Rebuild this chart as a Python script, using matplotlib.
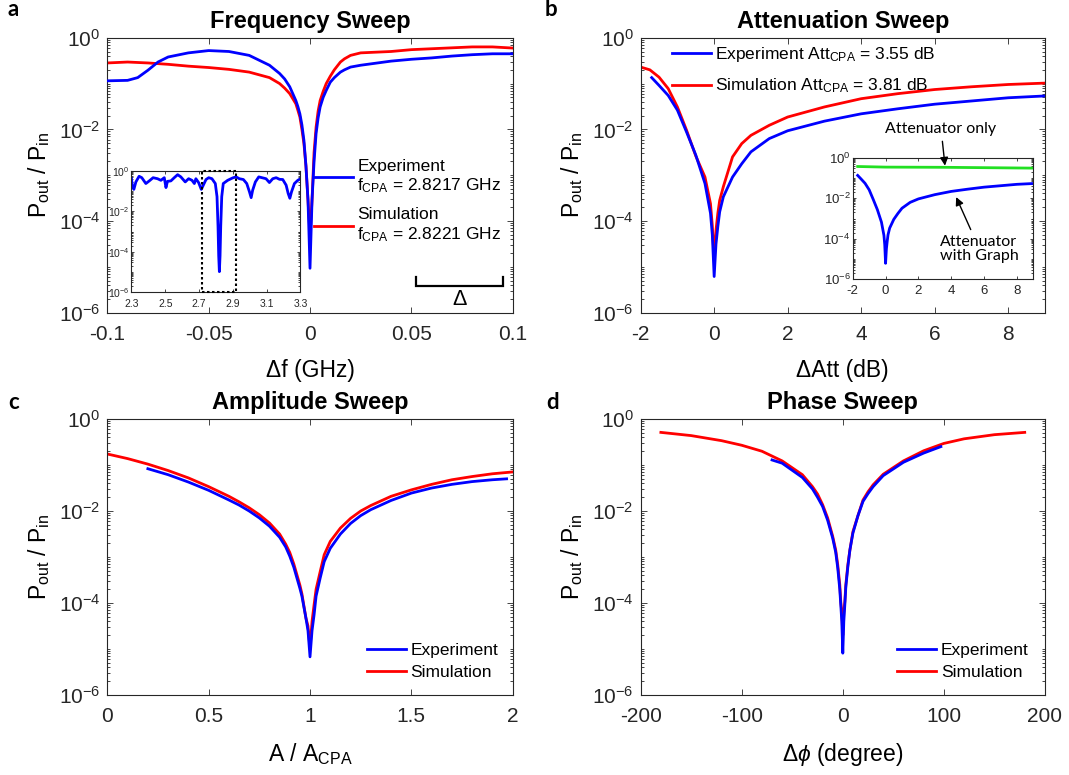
import numpy as np
import matplotlib
matplotlib.use("Agg")
import matplotlib.pyplot as plt
from matplotlib.ticker import FixedLocator, LogLocator, FuncFormatter, NullFormatter
from matplotlib.patches import Rectangle

# ── data (log10 of Pout/Pin) ──────────────────────────────────────────────────
# a: frequency sweep
fa_exp_x = [-0.1, -0.09, -0.085, -0.08, -0.075, -0.07, -0.06, -0.05, -0.04, -0.03, -0.02,
            -0.015, -0.0125, -0.01, -0.0085, -0.007, -0.006, -0.005, -0.004, -0.003, -0.002,
            -0.001, 0.0, 0.001, 0.002, 0.003, 0.004, 0.005, 0.0065, 0.008, 0.01, 0.012,
            0.015, 0.017, 0.02, 0.025, 0.03, 0.04, 0.05, 0.06, 0.07, 0.08, 0.09, 0.1]
fa_exp_y = [-0.94, -0.93, -0.87, -0.71, -0.53, -0.42, -0.33, -0.28, -0.30, -0.385, -0.60,
            -0.78, -0.90, -1.07, -1.22, -1.37, -1.50, -1.66, -1.90, -2.24, -2.80,
            -3.54, -5.03, -3.54, -2.70, -2.09, -1.75, -1.51, -1.30, -1.15, -0.97, -0.87,
            -0.75, -0.70, -0.64, -0.60, -0.57, -0.51, -0.47, -0.44, -0.40, -0.37, -0.35, -0.35]
fa_sim_x = [-0.1, -0.09, -0.08, -0.07, -0.06, -0.05, -0.04, -0.03, -0.02, -0.015, -0.0125,
            -0.01, -0.0085, -0.007, -0.006, -0.005, -0.004, -0.003, -0.002, -0.001, 0.0,
            0.001, 0.002, 0.003, 0.004, 0.005, 0.0065, 0.008, 0.01, 0.012, 0.015, 0.017,
            0.02, 0.025, 0.03, 0.04, 0.05, 0.06, 0.07, 0.08, 0.09, 0.1]
fa_sim_y = [-0.55, -0.53, -0.55, -0.58, -0.62, -0.65, -0.69, -0.75, -0.87, -1.0, -1.1,
            -1.22, -1.33, -1.44, -1.58, -1.73, -2.0, -2.31, -2.80, -3.54, -4.3,
            -3.54, -2.50, -1.95, -1.60, -1.37, -1.17, -1.0, -0.84, -0.70, -0.53, -0.46,
            -0.385, -0.33, -0.32, -0.30, -0.26, -0.24, -0.22, -0.20, -0.20, -0.225]

# a inset: wide frequency scan (GHz)
wide_x = [2.30, 2.306, 2.314, 2.326, 2.345, 2.361, 2.385, 2.405, 2.428, 2.454, 2.474, 2.494,
          2.504, 2.513, 2.533, 2.553, 2.573, 2.592, 2.618, 2.638, 2.658, 2.672, 2.681, 2.697,
          2.713, 2.725, 2.741, 2.757, 2.776, 2.796, 2.806, 2.812, 2.816, 2.820, 2.824, 2.828,
          2.834, 2.843, 2.869, 2.899, 2.919, 2.938, 2.962, 2.982, 2.998, 3.008, 3.017, 3.033,
          3.053, 3.077, 3.096, 3.116, 3.136, 3.156, 3.176, 3.195, 3.215, 3.227, 3.237, 3.247,
          3.264, 3.284, 3.30]
wide_y = [-0.38, -0.78, -0.91, -0.54, -0.26, -0.33, -0.62, -0.49, -0.33, -0.38, -0.46, -0.33,
          -0.82, -0.51, -0.49, -0.33, -0.18, -0.29, -0.54, -0.38, -0.46, -0.62, -0.38, -0.57,
          -0.91, -0.70, -0.42, -0.33, -0.38, -0.62, -1.27, -2.74, -4.2, -4.99, -4.2, -2.74,
          -1.27, -0.62, -0.46, -0.34, -0.29, -0.38, -0.42, -0.62, -1.03, -1.32, -0.95, -0.54,
          -0.29, -0.34, -0.38, -0.57, -0.38, -0.33, -0.41, -0.42, -0.70, -1.11, -1.35, -1.03,
          -0.62, -0.46, -0.38]
window = (2.72, 2.92)

# b: attenuation sweep (dB)
att_exp_x = [-1.7, -1.5, -1.25, -1.0, -0.75, -0.5, -0.25, -0.1, -0.05, 0.0, 0.05, 0.1, 0.15,
             0.25, 0.5, 0.75, 1.0, 1.5, 2, 3, 4, 5, 6, 7, 8, 9]
att_exp_y = [-0.87, -1.04, -1.26, -1.58, -2.06, -2.56, -3.18, -3.83, -4.30, -5.21, -4.50,
             -4.12, -3.80, -3.47, -3.04, -2.75, -2.49, -2.20, -2.03, -1.82, -1.66, -1.55,
             -1.45, -1.38, -1.31, -1.27]
att_sim_x = [-2.0, -1.75, -1.5, -1.25, -1.0, -0.75, -0.5, -0.25, -0.1, -0.05, 0.0, 0.05, 0.1,
             0.15, 0.25, 0.5, 0.75, 1.0, 1.5, 2, 3, 4, 5, 6, 7, 8, 9]
att_sim_y = [-0.64, -0.70, -0.86, -1.11, -1.51, -2.02, -2.58, -3.04, -3.62, -4.10, -4.85,
             -4.20, -3.83, -3.55, -3.25, -2.60, -2.31, -2.13, -1.91, -1.73, -1.51, -1.33,
             -1.22, -1.13, -1.07, -1.02, -0.99]
att_only_x = [-1.7, 0.0, 3.6, 9.0]
att_only_y = [-0.43, -0.46, -0.47, -0.51]

# c: amplitude sweep (A / A_CPA)
amp_exp_x = [0.2, 0.3, 0.4, 0.5, 0.6, 0.65, 0.7, 0.75, 0.8, 0.85, 0.88, 0.9, 0.92, 0.95,
             0.96, 0.98, 0.99, 1.0, 1.01, 1.02, 1.03, 1.05, 1.07, 1.1, 1.15, 1.2, 1.25,
             1.3, 1.4, 1.5, 1.6, 1.7, 1.8, 1.9, 1.97]
amp_exp_y = [-1.08, -1.21, -1.37, -1.55, -1.76, -1.87, -2.0, -2.15, -2.33, -2.57, -2.78,
             -2.98, -3.22, -3.68, -3.85, -4.33, -4.60, -5.17, -4.60, -4.26, -3.85, -3.46,
             -3.10, -2.81, -2.50, -2.27, -2.10, -1.97, -1.77, -1.61, -1.50, -1.42, -1.36,
             -1.32, -1.30]
amp_sim_x = [0.0, 0.1, 0.2, 0.3, 0.4, 0.5, 0.6, 0.65, 0.7, 0.75, 0.8, 0.85, 0.88, 0.9, 0.92,
             0.95, 0.96, 0.98, 0.99, 1.0, 1.01, 1.02, 1.03, 1.05, 1.07, 1.1, 1.15, 1.2,
             1.25, 1.3, 1.4, 1.5, 1.6, 1.7, 1.8, 1.9, 2.0]
amp_sim_y = [-0.76, -0.86, -0.98, -1.12, -1.28, -1.47, -1.68, -1.80, -1.93, -2.08, -2.26,
             -2.50, -2.72, -2.90, -3.15, -3.61, -3.80, -4.33, -4.50, -4.99, -4.40, -4.04,
             -3.70, -3.32, -2.95, -2.66, -2.37, -2.16, -2.00, -1.88, -1.68, -1.54, -1.42,
             -1.32, -1.25, -1.19, -1.15]

# d: phase sweep (degree)
ph_exp_x = [-70, -60, -40, -30, -25, -20, -15, -10, -7, -5, -3, -2, -1, 0, 1, 2, 3, 5, 7,
            10, 15, 20, 25, 30, 40, 60, 80, 97]
ph_exp_y = [-0.89, -0.96, -1.27, -1.52, -1.70, -1.90, -2.20, -2.59, -2.90, -3.24, -3.70,
            -4.04, -4.40, -5.09, -4.40, -4.04, -3.65, -3.21, -2.85, -2.48, -2.10, -1.79,
            -1.62, -1.47, -1.23, -0.94, -0.74, -0.60]
ph_sim_x = [-180, -150, -120, -100, -80, -60, -40, -30, -25, -20, -15, -10, -7, -5, -3, -2,
            -1, 0, 1, 2, 3, 5, 7, 10, 15, 20, 25, 30, 40, 60, 80, 100, 120, 150, 180]
ph_sim_y = [-0.29, -0.36, -0.47, -0.57, -0.70, -0.91, -1.21, -1.47, -1.63, -1.86, -2.15,
            -2.55, -2.85, -3.17, -3.60, -3.97, -4.20, -4.7, -4.20, -3.97, -3.60, -3.17,
            -2.85, -2.45, -2.10, -1.76, -1.58, -1.43, -1.20, -0.91, -0.69, -0.53, -0.43,
            -0.34, -0.29]

BLUE, RED, GREEN = "#0000ff", "#ff0000", "#22e022"
AX_COLOR = "#262626"

plt.rcParams.update({
    "font.family": ["Liberation Sans", "DejaVu Sans"],
    "axes.unicode_minus": False,
    "mathtext.fontset": "custom",
    "mathtext.rm": "Liberation Sans",
    "mathtext.it": "Liberation Sans:italic",
})

def p(v):
    return 10 ** np.array(v, dtype=float)

def style_log(ax, tick_fs=15, major_len=4.5, minor_len=2.5, pad=8.5, ypad=5):
    ax.set_yscale("log")
    ax.set_ylim(1e-6, 1)
    ax.yaxis.set_major_locator(FixedLocator([1e-6, 1e-4, 1e-2, 1]))
    ax.yaxis.set_minor_locator(LogLocator(base=10, subs=np.arange(1, 10), numticks=100))
    ax.yaxis.set_minor_formatter(NullFormatter())
    ax.xaxis.set_major_formatter(FuncFormatter(lambda v, _: "%g" % v))
    ax.tick_params(which="both", direction="in", top=True, right=True, colors=AX_COLOR,
                   width=0.6)
    ax.tick_params(which="major", length=major_len, labelsize=tick_fs, labelcolor="#262626")
    ax.tick_params(which="minor", length=minor_len)
    ax.tick_params(axis="x", pad=pad)
    ax.tick_params(axis="y", pad=ypad)
    for s in ax.spines.values():
        s.set_color(AX_COLOR)
        s.set_linewidth(0.8)

fig = plt.figure(figsize=(10.69, 7.75), dpi=100)

ax_a = fig.add_axes([0.1004, 0.5965, 0.3792, 0.3548])
ax_b = fig.add_axes([0.5993, 0.5965, 0.3782, 0.3548])
ax_c = fig.add_axes([0.1004, 0.1032, 0.3792, 0.3561])
ax_d = fig.add_axes([0.5993, 0.1032, 0.3782, 0.3561])

YLAB = r"P$\mathregular{_{out}}$ / P$\mathregular{_{in}}$"
LW = 2.0
LAB_FS = 16.5
TITLE_FS = 17
LEG = dict(frameon=False, fontsize=12.5, handlelength=2.25, handletextpad=0.25,
           borderpad=0, borderaxespad=0)

# ── a ─────────────────────────────────────────────────────────────────────────
style_log(ax_a)
ax_a.plot(fa_exp_x, p(fa_exp_y), color=BLUE, lw=LW,
          label="Experiment\n$\\mathregular{f_{CPA}}$ = 2.8217 GHz", zorder=3)
ax_a.plot(fa_sim_x, p(fa_sim_y), color=RED, lw=LW,
          label="Simulation\n$\\mathregular{f_{CPA}}$ = 2.8221 GHz", zorder=2)
ax_a.set_xlim(-0.1, 0.1)
ax_a.set_xticks([-0.1, -0.05, 0, 0.05, 0.1])
ax_a.set_xlabel("Δf (GHz)", fontsize=LAB_FS, labelpad=11)
ax_a.set_ylabel(YLAB, fontsize=LAB_FS, labelpad=5)
ax_a.set_title("Frequency Sweep", fontsize=TITLE_FS, fontweight="bold", pad=7)
ax_a.legend(loc="upper left", bbox_to_anchor=(0.51, 0.56), labelspacing=0.7, **LEG)
# scale bar marking the zoomed window width
bar_x = [0.0524, 0.0524, 0.0950, 0.0950]
bar_y = [-5.21, -5.42, -5.42, -5.21]
ax_a.plot(bar_x, p(bar_y), color="black", lw=1.6, solid_joinstyle="miter")
ax_a.text(0.0737, 10 ** -5.72, "Δ", fontsize=15.5, ha="center", va="center")

ins_a = fig.add_axes([0.1230, 0.6232, 0.1581, 0.1561])
style_log(ins_a, tick_fs=7.5, major_len=2.5, minor_len=1.5, pad=5, ypad=1.5)
ins_a.plot(wide_x, p(wide_y), color=BLUE, lw=LW)
ins_a.set_xlim(2.3, 3.3)
ins_a.set_xticks([2.3, 2.5, 2.7, 2.9, 3.1, 3.3])
ins_a.add_patch(Rectangle((window[0], 0), window[1] - window[0], 1,
                          transform=ins_a.get_xaxis_transform(), fill=False,
                          ls=(0, (1.2, 1.2)), lw=1.5, ec="black", clip_on=False, zorder=4))

# ── b ─────────────────────────────────────────────────────────────────────────
style_log(ax_b)
ax_b.plot(att_exp_x, p(att_exp_y), color=BLUE, lw=LW, zorder=3,
          label="Experiment Att$\\mathregular{_{CPA}}$ = 3.55 dB")
ax_b.plot(att_sim_x, p(att_sim_y), color=RED, lw=LW, zorder=2,
          label="Simulation Att$\\mathregular{_{CPA}}$ = 3.81 dB")
ax_b.set_xlim(-2, 9)
ax_b.set_xticks([-2, 0, 2, 4, 6, 8])
ax_b.set_xlabel("ΔAtt (dB)", fontsize=LAB_FS, labelpad=11)
ax_b.set_ylabel(YLAB, fontsize=LAB_FS, labelpad=5)
ax_b.set_title("Attenuation Sweep", fontsize=TITLE_FS, fontweight="bold", pad=7)
ax_b.legend(loc="upper left", bbox_to_anchor=(0.077, 0.975), labelspacing=0.75, **LEG)

ins_b = fig.add_axes([0.7977, 0.6396, 0.1689, 0.1568])
style_log(ins_b, tick_fs=9.5, major_len=2.5, minor_len=1.5, pad=4, ypad=1.5)
ins_b.plot(att_only_x, p(att_only_y), color=GREEN, lw=LW)
ins_b.plot(att_exp_x, p(att_exp_y), color=BLUE, lw=LW)
ins_b.set_xlim(-2, 9)
ins_b.set_xticks([-2, 0, 2, 4, 6, 8])
arrow = dict(arrowstyle="-|>", color="black", lw=1.0, mutation_scale=12, shrinkA=2, shrinkB=0)
ins_b.annotate("Attenuator only", xy=(3.62, 10 ** -0.39), xycoords="data",
               xytext=(0.743, 0.669), textcoords=ax_b.transAxes, fontsize=11.5,
               family="Lato", ha="center", va="center", arrowprops=arrow,
               annotation_clip=False)
ins_b.annotate("Attenuator\nwith Graph", xy=(4.3, 10 ** -1.94), xycoords="data",
               xytext=(0.484, 0.248), textcoords="axes fraction", fontsize=11.5,
               family="Lato", ha="left", va="center", multialignment="left",
               linespacing=1.05, arrowprops=arrow)

# ── c ─────────────────────────────────────────────────────────────────────────
style_log(ax_c)
ax_c.plot(amp_exp_x, p(amp_exp_y), color=BLUE, lw=LW, zorder=3, label="Experiment")
ax_c.plot(amp_sim_x, p(amp_sim_y), color=RED, lw=LW, zorder=2, label="Simulation")
ax_c.set_xlim(0, 2)
ax_c.set_xticks([0, 0.5, 1, 1.5, 2])
ax_c.set_xlabel(r"A / A$\mathregular{_{CPA}}$", fontsize=LAB_FS, labelpad=11)
ax_c.set_ylabel(YLAB, fontsize=LAB_FS, labelpad=5)
ax_c.set_title("Amplitude Sweep", fontsize=TITLE_FS, fontweight="bold", pad=7)
ax_c.legend(loc="lower left", bbox_to_anchor=(0.64, 0.055), labelspacing=0.4, **LEG)

# ── d ─────────────────────────────────────────────────────────────────────────
style_log(ax_d)
ax_d.plot(ph_exp_x, p(ph_exp_y), color=BLUE, lw=LW, zorder=3, label="Experiment")
ax_d.plot(ph_sim_x, p(ph_sim_y), color=RED, lw=LW, zorder=2, label="Simulation")
ax_d.set_xlim(-200, 200)
ax_d.set_xticks([-200, -100, 0, 100, 200])
ax_d.set_xlabel(r"Δ$\phi$ (degree)", fontsize=LAB_FS, labelpad=11)
ax_d.set_ylabel(YLAB, fontsize=LAB_FS, labelpad=5)
ax_d.set_title("Phase Sweep", fontsize=TITLE_FS, fontweight="bold", pad=7)
ax_d.legend(loc="lower left", bbox_to_anchor=(0.635, 0.055), labelspacing=0.4, **LEG)

# panel letters
for lx, ly, letter in [(7, 16, "a"), (545, 16, "b"), (8, 409, "c"), (546, 409, "d")]:
    fig.text(lx / 1069, 1 - ly / 775, letter, fontsize=16, fontweight="bold",
             family="Lato", ha="left", va="baseline")

fig.savefig("out.png", dpi=100)
